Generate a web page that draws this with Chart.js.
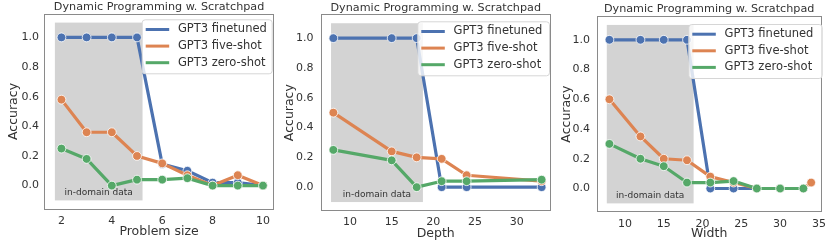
<!DOCTYPE html>
<html>
<head>
<meta charset="utf-8">
<script src="https://cdn.jsdelivr.net/npm/chart.js@4.4.1/dist/chart.umd.min.js"></script>
<style>
  html, body { margin: 0; padding: 0; background: #fff; }
  #wrap { position: relative; width: 831px; height: 242px; overflow: hidden; }
  canvas { position: absolute; top: 0; }
</style>
</head>
<body>
<div id="wrap">
  <canvas id="c1" width="279" height="242" style="left:0px"></canvas>
  <canvas id="c2" width="277" height="242" style="left:279px"></canvas>
  <canvas id="c3" width="275" height="242" style="left:556px"></canvas>
</div>
<script>
const seriesNames = ["GPT3 finetuned", "GPT3 five-shot", "GPT3 zero-shot"];
const seriesColors = ["#4c72b0", "#dd8452", "#55a868"];
const accuracyTicks = [0, 0.2, 0.4, 0.6, 0.8, 1.0];
const chartTitle = "Dynamic Programming w. Scratchpad";

// problem size
const sizeX = [2, 3, 4, 5, 6, 7, 8, 9, 10];
const sizeFinetuned = [1, 1, 1, 1, 0.145, 0.1, 0.02, 0.02, 0];
const sizeFiveShot = [0.58, 0.36, 0.36, 0.2, 0.15, 0.07, 0, 0.07, 0];
const sizeZeroShot = [0.25, 0.18, 0, 0.04, 0.04, 0.05, 0, 0, 0];
const sizeTicks = [2, 4, 6, 8, 10];
const sizeInDomain = [1.74, 5.22];

// depth
const depthX = [8, 15, 18, 21, 24, 33];
const depthFinetuned = [1, 1, 1, 0, 0, 0];
const depthFiveShot = [0.5, 0.24, 0.2, 0.19, 0.08, 0.04];
const depthZeroShot = [0.25, 0.18, 0, 0.04, 0.04, 0.05];
const depthTicks = [10, 15, 20, 25, 30];
const depthInDomain = [7.72, 18.75];

// width
const widthX = [8, 12, 15, 18, 21, 24, 27, 30, 33];
const widthFiveShotX = [8, 12, 15, 18, 21, 24, 27, 30, 33, 34];
const widthFinetuned = [1, 1, 1, 1, 0, 0, 0, 0, 0];
const widthFiveShot = [0.6, 0.35, 0.2, 0.19, 0.08, 0.04, 0, 0, 0, 0.04];
const widthZeroShot = [0.3, 0.2, 0.15, 0.04, 0.04, 0.05, 0, 0, 0];
const widthTicks = [10, 15, 20, 25, 30, 35];
const widthInDomain = [7.66, 18.85];

const shadeBottom = -0.1;
const shadeTop = 1.1;

const FONT = "DejaVu Sans";
const TEXT = "#333333";

const panels = [
  {
    id: "c1", left: 0, width: 279, xTitle: "Problem size",
    xs: [sizeX, sizeX, sizeX], ys: [sizeFinetuned, sizeFiveShot, sizeZeroShot],
    ticks: sizeTicks, shade: sizeInDomain, xMin: 1.32, xMax: 10.43,
    area: { l: 44.3, r: 276.7, t: 13.7, b: 209.3 },
    yTitleX: 13.8, yTickPad: 5.3, xTickPad: 5, xTitleY: 232,
    legend: { l: 141.7, t: 19.3, w: 130 },
  },
  {
    id: "c2", left: 279, width: 277, xTitle: "Depth",
    xs: [depthX, depthX, depthX], ys: [depthFinetuned, depthFiveShot, depthZeroShot],
    ticks: depthTicks, shade: depthInDomain, xMin: 6.48, xMax: 34.1,
    area: { l: 320.7, r: 552.5, t: 14.3, b: 211 },
    yTitleX: 290, yTickPad: 7.2, xTickPad: 5, xTitleY: 233.6,
    legend: { l: 417.3, t: 21.3, w: 131.7 },
  },
  {
    id: "c3", left: 556, width: 275, xTitle: "Width",
    xs: [widthX, widthFiveShotX, widthX], ys: [widthFinetuned, widthFiveShot, widthZeroShot],
    ticks: widthTicks, shade: widthInDomain, xMin: 6.36, xMax: 35.35,
    area: { l: 596.7, r: 823.7, t: 16, b: 212.3 },
    yTitleX: 566.3, yTickPad: 6.6, xTickPad: 5, xTitleY: 233.4,
    legend: { l: 688.3, t: 24, w: 133.4 },
  },
];

function makeDecor(p) {
  return {
    id: "decor",
    beforeDatasetsDraw(chart) {
      const { ctx, scales: { x, y } } = chart;
      const x0 = x.getPixelForValue(p.shade[0]);
      const x1 = x.getPixelForValue(p.shade[1]);
      const yT = y.getPixelForValue(shadeTop);
      const yB = y.getPixelForValue(shadeBottom);
      ctx.save();
      ctx.fillStyle = "#d3d3d3";
      ctx.fillRect(x0, yT, x1 - x0, yB - yT);
      ctx.fillStyle = TEXT;
      ctx.font = `9px "${FONT}"`;
      ctx.textAlign = "center";
      ctx.textBaseline = "middle";
      ctx.fillText("in-domain data", (x0 + x1) / 2, yB - 7.5);
      ctx.restore();
    },
    afterDatasetsDraw(chart) {
      const { ctx, chartArea: a } = chart;
      ctx.save();
      // frame
      ctx.strokeStyle = "#8a8a8a";
      ctx.lineWidth = 1;
      ctx.strokeRect(Math.round(a.left) + 0.5, Math.round(a.top) + 0.5,
        Math.round(a.right - a.left) - 1, Math.round(a.bottom - a.top) - 1);
      // title
      ctx.fillStyle = TEXT;
      ctx.font = `11.2px "${FONT}"`;
      ctx.textAlign = "center";
      ctx.textBaseline = "alphabetic";
      ctx.fillText(chartTitle, (a.left + a.right) / 2, a.top - 3.6);
      // legend
      const L = p.legend.l - p.left, T = p.legend.t, W = p.legend.w, H = 54;
      ctx.beginPath();
      ctx.roundRect(L + 0.5, T + 0.5, W, H, 3);
      ctx.fillStyle = "rgba(255,255,255,0.8)";
      ctx.fill();
      ctx.strokeStyle = "#d6d6d6";
      ctx.stroke();
      ctx.font = `11.5px "${FONT}"`;
      ctx.textAlign = "left";
      ctx.textBaseline = "middle";
      seriesNames.forEach((name, i) => {
        const yy = T + 10.2 + i * 16.6;
        ctx.strokeStyle = seriesColors[i];
        ctx.lineWidth = 3;
        ctx.lineCap = "butt";
        ctx.beginPath();
        ctx.moveTo(L + 4, yy);
        ctx.lineTo(L + 27.5, yy);
        ctx.stroke();
        ctx.fillStyle = TEXT;
        ctx.fillText(name, L + 36.2, yy);
      });
      ctx.restore();
    },
  };
}

panels.forEach((p) => {
  const datasets = seriesNames.map((name, i) => ({
    label: name,
    data: p.xs[i].map((xv, j) => ({ x: xv, y: p.ys[i][j] })),
    borderColor: seriesColors[i],
    backgroundColor: seriesColors[i],
    borderWidth: 3.2,
    borderJoinStyle: "round",
    pointRadius: 4.4,
    pointBorderColor: "#ffffff",
    pointBorderWidth: 0.8,
    pointBackgroundColor: seriesColors[i],
    order: 2 - i,
    tension: 0,
  }));

  new Chart(document.getElementById(p.id), {
    type: "line",
    data: { datasets },
    options: {
      responsive: false,
      animation: false,
      devicePixelRatio: 1,
      layout: {
        padding: { top: p.area.t, right: p.left + p.width - p.area.r, bottom: 0, left: 0 },
      },
      plugins: { legend: { display: false }, tooltip: { enabled: false }, title: { display: false } },
      scales: {
        x: {
          type: "linear",
          min: p.xMin,
          max: p.xMax,
          afterBuildTicks: (s) => { s.ticks = p.ticks.map((v) => ({ value: v })); },
          afterFit: (s) => { s.height = 242 - p.area.b; },
          grid: { display: false, drawTicks: false },
          border: { display: false },
          ticks: { font: { family: FONT, size: 11 }, color: TEXT, padding: p.xTickPad, maxRotation: 0 },
          title: {
            display: true, text: p.xTitle, color: TEXT,
            font: { family: FONT, size: 12.5 },
            padding: { top: 0, bottom: 242 - p.xTitleY - 7.5 },
          },
        },
        y: {
          min: -0.16,
          max: 1.16,
          afterBuildTicks: (s) => { s.ticks = accuracyTicks.map((v) => ({ value: v })); },
          afterFit: (s) => { s.width = p.area.l - p.left; },
          grid: { display: false, drawTicks: false },
          border: { display: false },
          ticks: {
            font: { family: FONT, size: 11 }, color: TEXT, padding: p.yTickPad,
            callback: (v) => Number(v).toFixed(1),
          },
          title: {
            display: true, text: "Accuracy", color: TEXT,
            font: { family: FONT, size: 12.5 },
            padding: { top: p.yTitleX - p.left - 7.5, bottom: 0 },
          },
        },
      },
    },
    plugins: [makeDecor(p)],
  });
});
</script>
</body>
</html>
